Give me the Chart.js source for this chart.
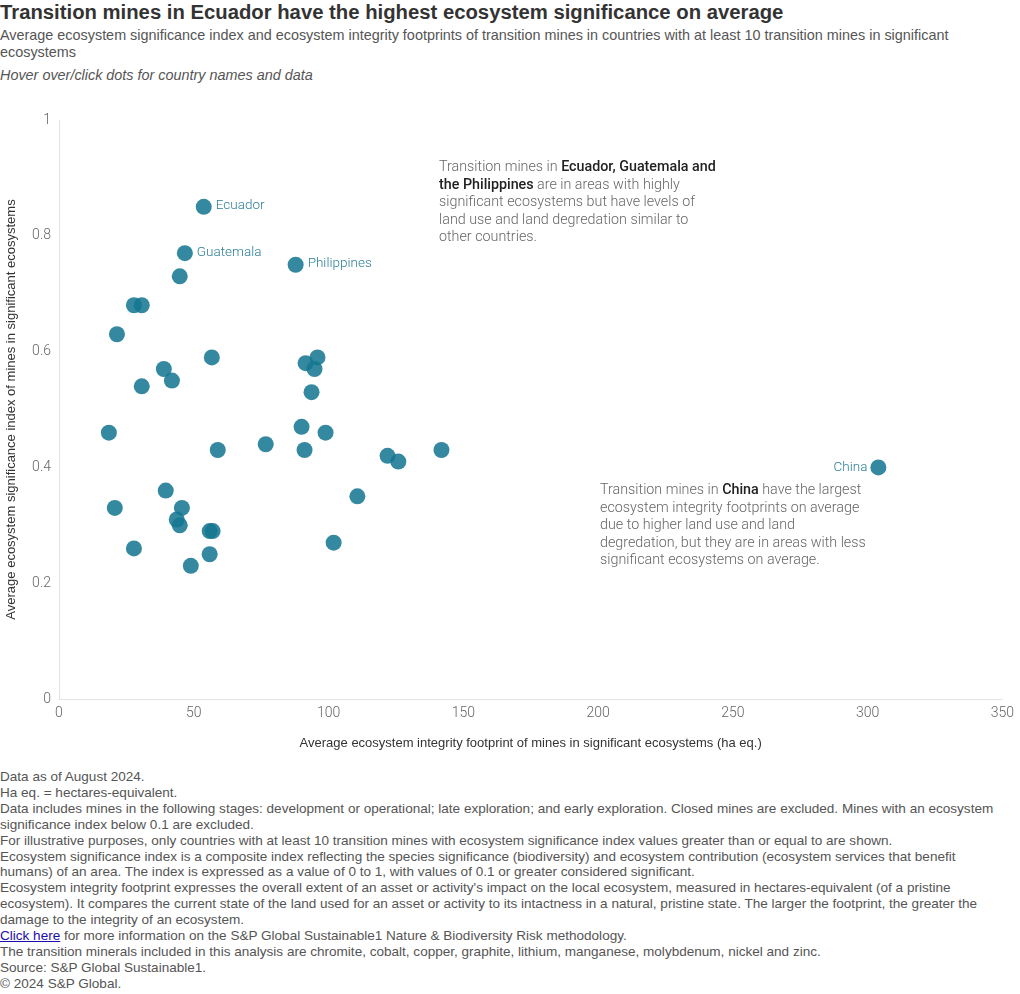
<!DOCTYPE html>
<html>
<head>
<meta charset="utf-8">
<script src="https://cdn.jsdelivr.net/npm/chart.js@4"></script>
<style>
  body { margin: 0; background: #fff; width: 1020px; height: 994px; position: relative; overflow: hidden;
         font-family: "Liberation Sans", Roboto, sans-serif; color: #555; }
  #title { position: absolute; left: 0; top: 1px; font-size: 20.3px; font-weight: bold; color: #333; white-space: nowrap; }
  #sub { position: absolute; left: 0; top: 27px; font-size: 14.4px; line-height: 17px; color: #555; width: 1000px; }
  #hint { position: absolute; left: 0; top: 67px; font-size: 14.4px; font-style: italic; color: #555; }
  #wrap { position: absolute; left: 0; top: 100px; width: 1020px; height: 655px; }
  .note { position: absolute; font-family: Roboto, "Liberation Sans", sans-serif; font-size: 14.3px; line-height: 17.5px;
          color: #666; font-weight: 300; white-space: nowrap; }
  .note b { color: #222; font-weight: 500; }
  #foot { position: absolute; left: 0; top: 769px; font-size: 13.55px; line-height: 15.9px; color: #555; white-space: nowrap; }
  #foot a { color: #1a0dab; }
</style>
</head>
<body>
<div id="title">Transition mines in Ecuador have the highest ecosystem significance on average</div>
<div id="sub">Average ecosystem significance index and ecosystem integrity footprints of transition mines in countries with at least 10 transition mines in significant ecosystems</div>
<div id="hint">Hover over/click dots for country names and data</div>
<div id="wrap"><canvas id="chart"></canvas></div>
<div class="note" style="left:439px; top:158px;">Transition mines in <b>Ecuador, Guatemala and</b><br><b>the Philippines</b> are in areas with highly<br>significant ecosystems but have levels of<br>land use and land degredation similar to<br>other countries.</div>
<div class="note" style="left:600px; top:481px;">Transition mines in <b>China</b> have the largest<br>ecosystem integrity footprints on average<br>due to higher land use and land<br>degredation, but they are in areas with less<br>significant ecosystems on average.</div>
<div id="foot">Data as of August 2024.<br>Ha eq. = hectares-equivalent.<br>Data includes mines in the following stages: development or operational; late exploration; and early exploration. Closed mines are excluded. Mines with an ecosystem<br>significance index below 0.1 are excluded.<br>For illustrative purposes, only countries with at least 10 transition mines with ecosystem significance index values greater than or equal to are shown.<br>Ecosystem significance index is a composite index reflecting the species significance (biodiversity) and ecosystem contribution (ecosystem services that benefit<br>humans) of an area. The index is expressed as a value of 0 to 1, with values of 0.1 or greater considered significant.<br>Ecosystem integrity footprint expresses the overall extent of an asset or activity's impact on the local ecosystem, measured in hectares-equivalent (of a pristine<br>ecosystem). It compares the current state of the land used for an asset or activity to its intactness in a natural, pristine state. The larger the footprint, the greater the<br>damage to the integrity of an ecosystem.<br><a href="#">Click here</a> for more information on the S&amp;P Global Sustainable1 Nature &amp; Biodiversity Risk methodology.<br>The transition minerals included in this analysis are chromite, cobalt, copper, graphite, lithium, manganese, molybdenum, nickel and zinc.<br>Source: S&amp;P Global Sustainable1.<br>&copy; 2024 S&amp;P Global.</div>
<script>
// --- Data ---
const countryNames = ['Ecuador', 'Guatemala', '', 'Philippines', '', '', '', '', '', '', '', '', '', '', '', '', '', '', '', '', '', '', '', '', '', '', 'China', '', '', '', '', '', '', '', '', '', ''];
const footprint = [53.7, 46.7, 44.8, 87.8, 27.8, 30.7, 21.5, 56.7, 38.9, 41.9, 30.7, 18.5, 58.9, 76.7, 90.0, 91.1, 98.9, 91.5, 95.9, 94.8, 93.7, 121.9, 125.9, 141.9, 110.7, 101.9, 304.0, 39.6, 20.7, 45.6, 43.7, 44.8, 55.9, 57.0, 27.8, 55.9, 48.9];
const significance = [0.85, 0.77, 0.73, 0.75, 0.68, 0.68, 0.63, 0.59, 0.57, 0.55, 0.54, 0.46, 0.43, 0.44, 0.47, 0.43, 0.46, 0.58, 0.59, 0.57, 0.53, 0.42, 0.41, 0.43, 0.35, 0.27, 0.40, 0.36, 0.33, 0.33, 0.31, 0.30, 0.29, 0.29, 0.26, 0.25, 0.23];
const xTicks = [0, 50, 100, 150, 200, 250, 300, 350];
const yTicks = [0, 0.2, 0.4, 0.6, 0.8, 1];

const points = footprint.map((x, i) => ({ x: x, y: significance[i], name: countryNames[i] }));

// --- Dot labels ---
const dotLabels = {
    id: 'dotLabels',
    afterDatasetsDraw(chart) {
        const ctx = chart.ctx;
        const meta = chart.getDatasetMeta(0);
        ctx.save();
        ctx.font = '300 13.5px Roboto, sans-serif';
        ctx.fillStyle = '#2b7f96';
        ctx.textBaseline = 'middle';
        meta.data.forEach((pt, i) => {
            const name = countryNames[i];
            if (!name) return;
            if (name === 'China') {
                ctx.textAlign = 'right';
                ctx.fillText(name, pt.x - 11, pt.y);
            } else {
                ctx.textAlign = 'left';
                ctx.fillText(name, pt.x + 12, pt.y - 1);
            }
        });
        ctx.restore();
    }
};

// --- Chart Config ---
const ctx = document.getElementById('chart').getContext('2d');
new Chart(ctx, {
    type: 'scatter',
    data: {
        datasets: [{
            data: points,
            backgroundColor: 'rgba(22, 120, 146, 0.87)',
            borderWidth: 0,
            pointRadius: 8,
            pointHoverRadius: 9
        }]
    },
    options: {
        responsive: true,
        maintainAspectRatio: false,
        animation: false,
        layout: { padding: { top: 20, right: 15, left: 0, bottom: 0 } },
        plugins: {
            legend: { display: false },
            tooltip: {
                callbacks: {
                    label: function(c) {
                        const p = c.raw;
                        return (p.name ? p.name + ': ' : '') + p.x + ' ha eq., ' + p.y;
                    }
                }
            }
        },
        scales: {
            x: {
                type: 'linear',
                min: 0, max: 350,
                afterBuildTicks: s => { s.ticks = xTicks.map(v => ({ value: v })); },
                afterFit: s => { s.height = 56; },
                grid: { display: false, drawTicks: false },
                border: { color: '#e3e3e3' },
                ticks: { color: '#666', padding: 6, font: { family: 'Roboto', size: 14, weight: '300' } },
                title: { display: true, text: 'Average ecosystem integrity footprint of mines in significant ecosystems (ha eq.)',
                         color: '#333', padding: { top: 14 }, font: { family: '"Liberation Sans", sans-serif', size: 13 } }
            },
            y: {
                min: 0, max: 1,
                afterBuildTicks: s => { s.ticks = yTicks.map(v => ({ value: v })); },
                afterFit: s => { s.width = 59; },
                grid: { display: false, drawTicks: false },
                border: { color: '#e3e3e3' },
                ticks: { color: '#666', padding: 8, font: { family: 'Roboto', size: 14, weight: '300' },
                         callback: v => String(v) },
                title: { display: true, text: 'Average ecosystem significance index of mines in significant ecosystems',
                         color: '#333', padding: { bottom: 0 }, font: { family: '"Liberation Sans", sans-serif', size: 13 } }
            }
        }
    },
    plugins: [dotLabels]
});
</script>
</body>
</html>
